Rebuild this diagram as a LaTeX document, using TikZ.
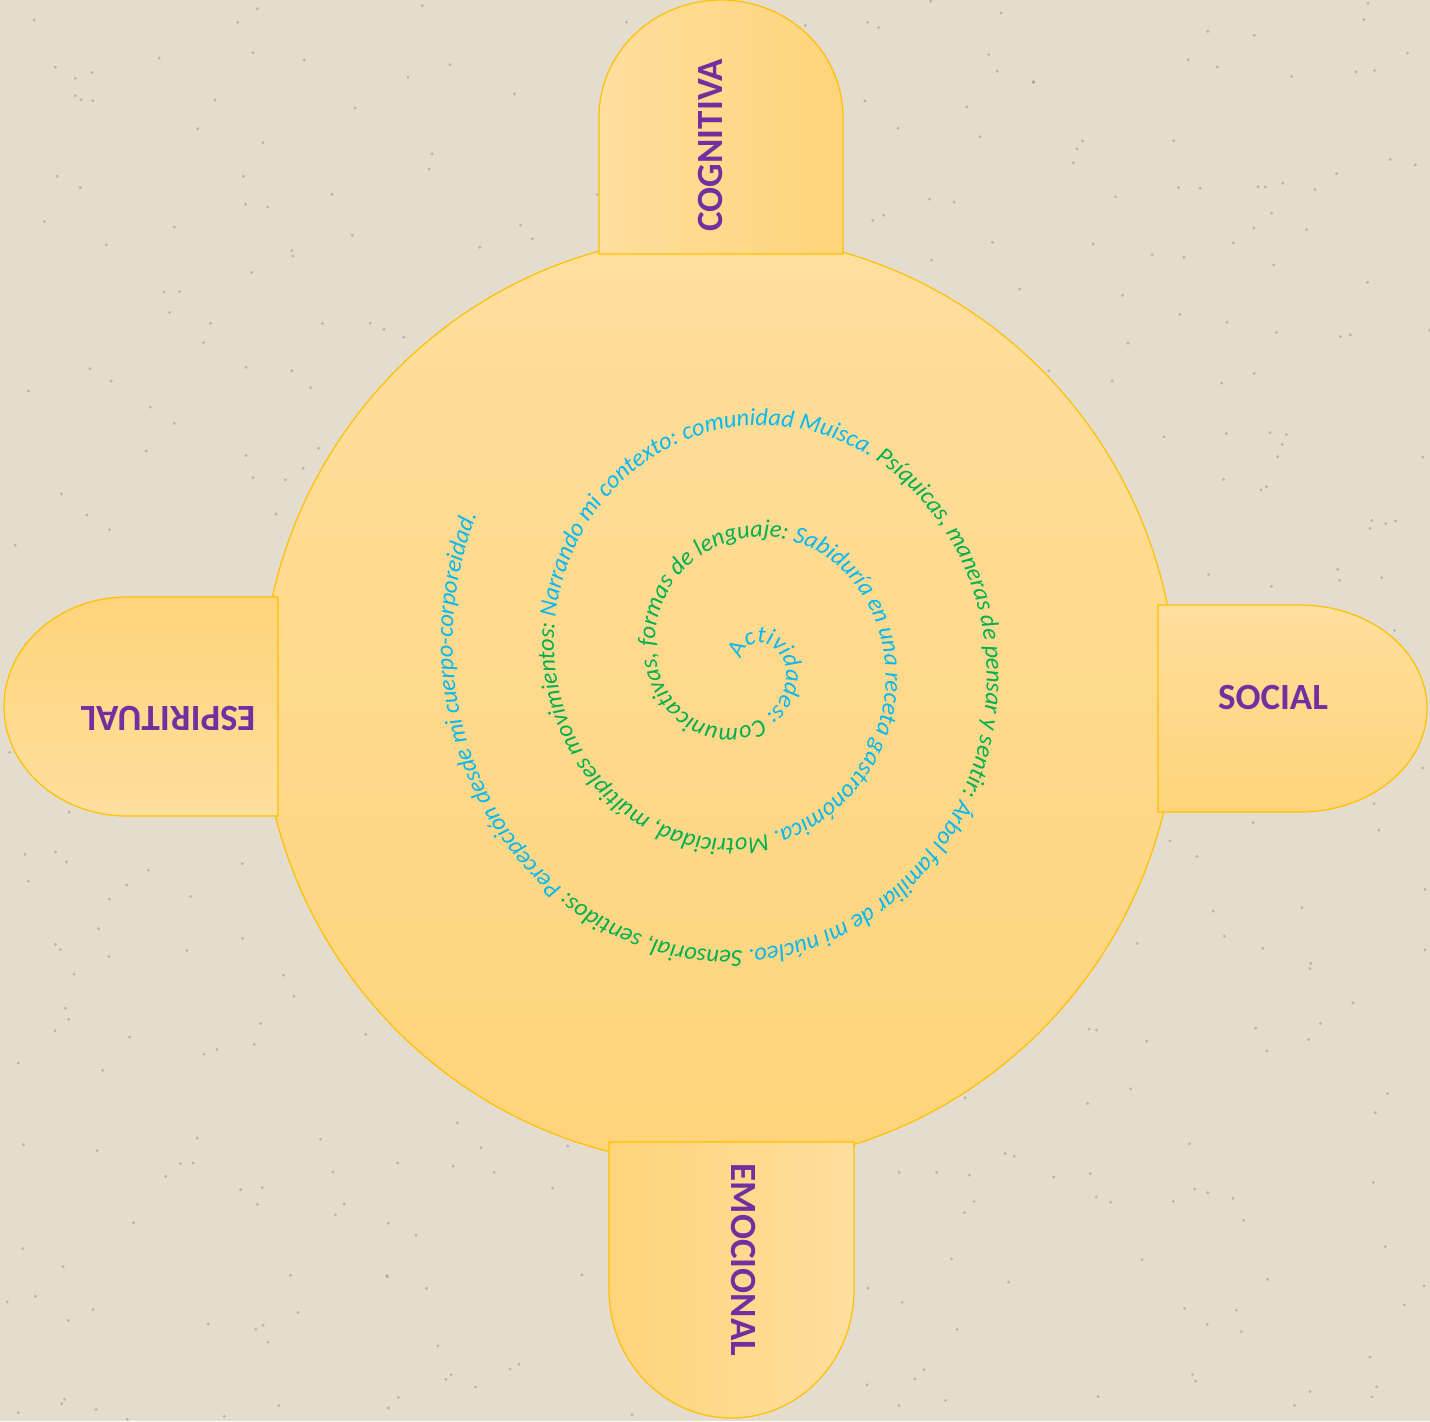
\documentclass[tikz,border=0pt]{standalone}
\usepackage{fontspec}
\setmainfont{Carlito}
\usetikzlibrary{decorations.text}
\definecolor{bgc}{HTML}{E4DCCD}
\definecolor{edgeC}{HTML}{FFC000}
\definecolor{liteC}{HTML}{FFDF9E}
\definecolor{darkC}{HTML}{FFD47A}
\definecolor{purp}{HTML}{7030A0}
\definecolor{cyanT}{HTML}{08B8F0}
\definecolor{greenT}{HTML}{00B050}
\newcommand{\spf}{\itshape\fontsize{12.2}{14}\selectfont}
\begin{document}
\begin{tikzpicture}[x=0.5pt,y=0.5pt,
  tabshape/.style={draw=edgeC, line width=0.6pt},
  lab/.style={font=\bfseries\fontsize{18.5}{22}\selectfont, text=purp, inner sep=0pt}]
\path[use as bounding box, fill=bgc] (0,0) rectangle (1430,-1421);
% speckles of the paper texture
\pgfmathsetseed{12}
\foreach \i in {1,...,500}{\fill[black, opacity=0.18] ({rnd*1430},{-rnd*1421}) circle[radius=0.8pt];}
% big disc
\path[draw=edgeC, line width=0.6pt, top color=liteC, bottom color=darkC]
  (719,-700) ellipse[x radius=229pt, y radius=232.5pt];
% tabs
\path[tabshape, left color=liteC, right color=darkC]
  (599,-254) -- (599,-117) arc[start angle=180, end angle=0, x radius=61pt, y radius=58.5pt] -- (843,-254) -- cycle;
\path[tabshape, left color=darkC, right color=liteC]
  (609,-1142) -- (609,-1290) arc[start angle=180, end angle=360, x radius=61.25pt, y radius=64pt] -- (854,-1142) -- cycle;
\path[tabshape, top color=darkC, bottom color=liteC]
  (278,-597) -- (127,-597) arc[start angle=90, end angle=270, x radius=61.5pt, y radius=54.75pt] -- (278,-816) -- cycle;
\path[tabshape, top color=liteC, bottom color=darkC]
  (1158,-605) -- (1300,-605) arc[start angle=90, end angle=-90, x radius=63.5pt, y radius=51.75pt] -- (1158,-812) -- cycle;
% labels
\node[lab, rotate=90] (cog) at (710,-145) {COGNITIVA};
\node[lab, rotate=-90] (emo) at (743,-1260) {EMOCIONAL};
\node[lab, rotate=180] (esp) at (168,-718) {ESPIRITUAL};
\node[lab] (soc) at (1273,-697) {SOCIAL};
% spiral text
\path[decorate, decoration={text along path, text align={left},
  text={|\spf\color{cyanT}|Actividades: |\spf\color{greenT}|Comunicativas, formas de lenguaje: |\spf\color{cyanT}|Sabiduría en una receta gastronómica. |\spf\color{greenT}|Motricidad, múltiples movimientos: |\spf\color{cyanT}|Narrando mi contexto: comunidad Muisca. |\spf\color{greenT}|Psíquicas, maneras de pensar y sentir: |\spf\color{cyanT}|Árbol familiar de mi núcleo. |\spf\color{greenT}|Sensorial, sentidos: |\spf\color{cyanT}|Percepción desde mi cuerpo-corporeidad.}}]
  plot[domain=-120:1000, samples=561, variable=\t]
  ({745+(38+0.2822*\t)*cos(\t)}, {-660-(38+0.3111*\t)*sin(\t)});
\end{tikzpicture}
\end{document}
